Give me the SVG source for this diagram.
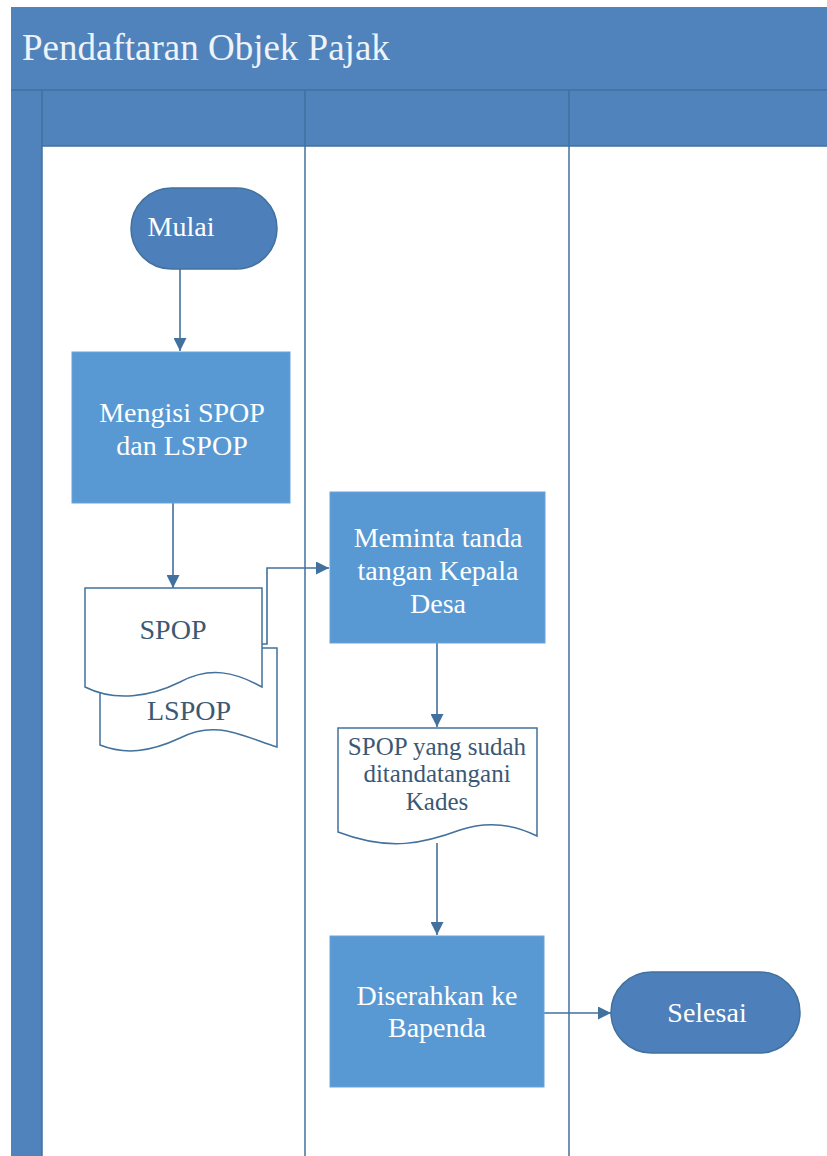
<svg xmlns="http://www.w3.org/2000/svg" width="827" height="1156" viewBox="0 0 827 1156">
<defs>
<style>
.hdr{fill:#5083bb;}
.lane{stroke:#41719c;stroke-width:1.5;fill:none;}
.proc{fill:#5899d3;stroke:#6aa3d8;stroke-width:1;}
.term{fill:#4d80ba;stroke:#41719c;stroke-width:1.5;}
.doc{fill:#ffffff;stroke:#41719c;stroke-width:1.5;}
.wt{fill:#ffffff;text-anchor:middle;}
.dt{fill:#3b5874;text-anchor:middle;}
.con{stroke:#41719c;stroke-width:1.6;fill:none;}
</style>
<marker id="ah" viewBox="0 0 10 10" refX="10" refY="5" markerWidth="13" markerHeight="13" markerUnits="userSpaceOnUse" orient="auto">
<path d="M0,0 L10,5 L0,10 z" fill="#41719c"/>
</marker>
</defs>
<rect x="0" y="0" width="827" height="1156" fill="#ffffff"/>
<g id="pool">
<rect class="hdr" x="11" y="7" width="816" height="139"/>
<rect class="hdr" x="11" y="7" width="31" height="1149"/>
<line class="lane" x1="11" y1="90" x2="827" y2="90"/>
<line class="lane" x1="42" y1="146" x2="827" y2="146"/>
<line class="lane" x1="42" y1="90" x2="42" y2="1156"/>
<line class="lane" x1="305" y1="90" x2="305" y2="1156"/>
<line class="lane" x1="569" y1="90" x2="569" y2="1156"/>
<text x="22" y="60" font-family="Liberation Serif, Times New Roman, serif" font-size="37" fill="#eef3f9">Pendaftaran Objek Pajak</text>
</g>
<g id="connectors">
<line class="con" marker-end="url(#ah)" x1="180" y1="269" x2="180" y2="351"/>
<line class="con" marker-end="url(#ah)" x1="173" y1="503" x2="173" y2="588"/>
<polyline class="con" marker-end="url(#ah)" points="262,644 267,644 267,568 329,568"/>
<line class="con" marker-end="url(#ah)" x1="437" y1="643" x2="437" y2="727"/>
<line class="con" marker-end="url(#ah)" x1="437" y1="843" x2="437" y2="935"/>
<line class="con" marker-end="url(#ah)" x1="544" y1="1013" x2="611" y2="1013"/>
</g>
<g font-family="Liberation Serif, Times New Roman, serif" font-size="28">
<g id="mulai">
<rect class="term" x="131" y="188" width="146" height="81" rx="40.5"/>
<text class="wt" x="181" y="236">Mulai</text>
</g>
<g id="mengisi">
<rect class="proc" x="72" y="352" width="218" height="151"/>
<text class="wt" x="182" y="422">Mengisi SPOP</text>
<text class="wt" x="182" y="455">dan LSPOP</text>
</g>
<g id="lspop">
<path class="doc" d="M100,648 L277,648 L277,747 C240,735 215,720 180,738 C150,752 125,755 100,745 Z"/>
<text class="dt" x="189" y="720">LSPOP</text>
</g>
<g id="spop">
<path class="doc" d="M85,588 L262,588 L262,687 C235,672 210,666 180,682 C150,697 115,702 85,687 Z"/>
<text class="dt" x="173" y="639">SPOP</text>
</g>
<g id="meminta">
<rect class="proc" x="330" y="492" width="215" height="151"/>
<text class="wt" x="438" y="547">Meminta tanda</text>
<text class="wt" x="438" y="580">tangan Kepala</text>
<text class="wt" x="438" y="613">Desa</text>
</g>
<g id="spop_ttd">
<path class="doc" d="M338,728 L537,728 L537,836 C515,825 490,820 460,830 C425,843 390,852 338,832 Z"/>
<text class="dt" x="437" y="755" font-size="25">SPOP yang sudah</text>
<text class="dt" x="437" y="782" font-size="25">ditandatangani</text>
<text class="dt" x="437" y="810" font-size="25">Kades</text>
</g>
<g id="diserahkan">
<rect class="proc" x="330" y="936" width="214" height="151"/>
<text class="wt" x="437" y="1005">Diserahkan ke</text>
<text class="wt" x="437" y="1037">Bapenda</text>
</g>
<g id="selesai">
<rect class="term" x="611" y="972" width="189" height="81" rx="40.5"/>
<text class="wt" x="707" y="1022">Selesai</text>
</g>
</g>
</svg>
